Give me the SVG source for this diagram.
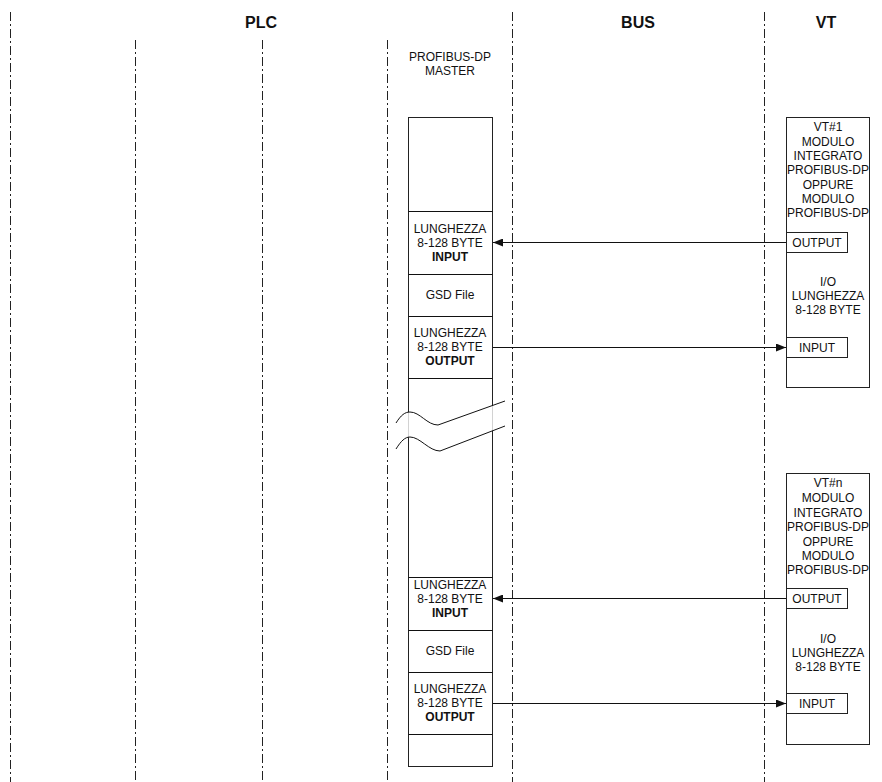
<svg xmlns="http://www.w3.org/2000/svg" width="882" height="782" viewBox="0 0 882 782">
<style>
.lane{stroke:#222;stroke-width:1;stroke-dasharray:9,3,2,3;fill:none}
.box{fill:#fff;stroke:#222;stroke-width:1}
.t{font-family:"Liberation Sans",Arial,sans-serif;font-size:12px;fill:#111;text-anchor:middle}
.b{font-weight:bold}
.h{font-family:"Liberation Sans",Arial,sans-serif;font-size:16px;font-weight:bold;fill:#111;text-anchor:middle}
.conn{stroke:#111;stroke-width:1;fill:none}
</style>
<defs>
<marker id="ah" viewBox="0 0 10 8" refX="10" refY="4" markerWidth="10" markerHeight="8" markerUnits="userSpaceOnUse" orient="auto">
<path d="M0,0 L10,4 L0,8 z" fill="#111"/>
</marker>
</defs>
<rect width="882" height="782" fill="#fff"/>
<g id="lanes">
<line class="lane" x1="10.5" y1="12" x2="10.5" y2="782"/>
<line class="lane" x1="135.5" y1="40" x2="135.5" y2="782"/>
<line class="lane" x1="262.5" y1="40" x2="262.5" y2="782"/>
<line class="lane" x1="387.5" y1="40" x2="387.5" y2="782"/>
<line class="lane" x1="512.5" y1="12" x2="512.5" y2="782"/>
<line class="lane" x1="764.5" y1="12" x2="764.5" y2="782"/>
</g>
<g id="headers">
<text class="h" x="261" y="28">PLC</text>
<text class="h" x="638" y="28">BUS</text>
<text class="h" x="826" y="28">VT</text>
<text class="t" x="450" y="61">PROFIBUS-DP</text>
<text class="t" x="450" y="75">MASTER</text>
</g>
<g id="master">
<rect class="box" x="408.5" y="117.5" width="84" height="649"/>
<line class="conn" x1="408.5" y1="211.5" x2="492.5" y2="211.5"/>
<line class="conn" x1="408.5" y1="274.5" x2="492.5" y2="274.5"/>
<line class="conn" x1="408.5" y1="316.5" x2="492.5" y2="316.5"/>
<line class="conn" x1="408.5" y1="378.5" x2="492.5" y2="378.5"/>
<text class="t" x="450" y="232.5">LUNGHEZZA</text>
<text class="t" x="450" y="246.5">8-128 BYTE</text>
<text class="t b" x="450" y="260.5">INPUT</text>
<text class="t" x="450" y="299">GSD File</text>
<text class="t" x="450" y="337">LUNGHEZZA</text>
<text class="t" x="450" y="351">8-128 BYTE</text>
<text class="t b" x="450" y="365">OUTPUT</text>
<line class="conn" x1="408.5" y1="577.5" x2="492.5" y2="577.5"/>
<line class="conn" x1="408.5" y1="630.5" x2="492.5" y2="630.5"/>
<line class="conn" x1="408.5" y1="672.5" x2="492.5" y2="672.5"/>
<line class="conn" x1="408.5" y1="734.5" x2="492.5" y2="734.5"/>
<text class="t" x="450" y="588.5">LUNGHEZZA</text>
<text class="t" x="450" y="602.5">8-128 BYTE</text>
<text class="t b" x="450" y="616.5">INPUT</text>
<text class="t" x="450" y="655">GSD File</text>
<text class="t" x="450" y="692.5">LUNGHEZZA</text>
<text class="t" x="450" y="706.5">8-128 BYTE</text>
<text class="t b" x="450" y="720.5">OUTPUT</text>
</g>
<g id="break">
<path d="M396,423 C401,415 405,412 410,412 C420,412 427,425 438,425 L505,401 L505,426 L440,451 C429,451 420,437 410,437 C405,437 401,441 396,449 Z" fill="#fff" fill-opacity="0.8" stroke="none"/>
<path class="conn" d="M396,423 C401,415 405,412 410,412 C420,412 427,425 438,425 L505,401"/>
<path class="conn" d="M396,449 C401,441 405,437 410,437 C420,437 429,451 440,451 L505,426"/>
</g>
<g id="vt1">
<rect class="box" x="786.5" y="117.5" width="83" height="270"/>
<text class="t" x="828" y="131">VT#1</text>
<text class="t" x="828" y="145.5">MODULO</text>
<text class="t" x="828" y="159.5">INTEGRATO</text>
<text class="t" x="828" y="174">PROFIBUS-DP</text>
<text class="t" x="828" y="189">OPPURE</text>
<text class="t" x="828" y="203">MODULO</text>
<text class="t" x="828" y="217">PROFIBUS-DP</text>
<rect class="box" x="786.5" y="232.5" width="61" height="20"/>
<text class="t" x="817" y="246.5">OUTPUT</text>
<text class="t" x="828" y="286">I/O</text>
<text class="t" x="828" y="300">LUNGHEZZA</text>
<text class="t" x="828" y="314">8-128 BYTE</text>
<rect class="box" x="786.5" y="337.5" width="61" height="20"/>
<text class="t" x="817" y="351.5">INPUT</text>
</g>
<g id="vtn">
<rect class="box" x="786.5" y="473.5" width="83" height="271"/>
<text class="t" x="828" y="487">VT#n</text>
<text class="t" x="828" y="502">MODULO</text>
<text class="t" x="828" y="516.5">INTEGRATO</text>
<text class="t" x="828" y="531">PROFIBUS-DP</text>
<text class="t" x="828" y="545.5">OPPURE</text>
<text class="t" x="828" y="560">MODULO</text>
<text class="t" x="828" y="574">PROFIBUS-DP</text>
<rect class="box" x="786.5" y="588.5" width="61" height="20"/>
<text class="t" x="817" y="602.5">OUTPUT</text>
<text class="t" x="828" y="643">I/O</text>
<text class="t" x="828" y="657">LUNGHEZZA</text>
<text class="t" x="828" y="671">8-128 BYTE</text>
<rect class="box" x="786.5" y="693.5" width="61" height="20"/>
<text class="t" x="817" y="707.5">INPUT</text>
</g>
<g id="connectors">
<line class="conn" x1="786" y1="242.5" x2="493" y2="242.5" marker-end="url(#ah)"/>
<line class="conn" x1="493" y1="347.5" x2="786" y2="347.5" marker-end="url(#ah)"/>
<line class="conn" x1="786" y1="598.5" x2="493" y2="598.5" marker-end="url(#ah)"/>
<line class="conn" x1="493" y1="703.5" x2="786" y2="703.5" marker-end="url(#ah)"/>
</g>
</svg>
